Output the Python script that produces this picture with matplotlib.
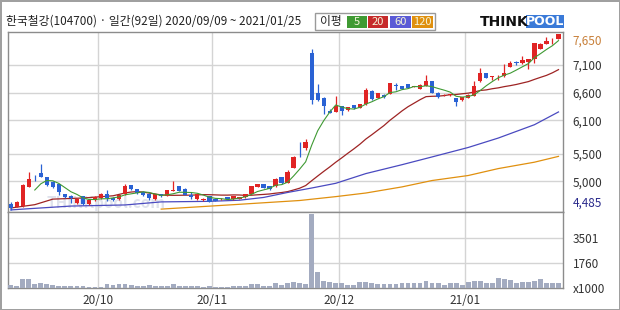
import numpy as np
import pandas as pd
import matplotlib
matplotlib.use('Agg')
import matplotlib.pyplot as plt
from matplotlib.patches import Rectangle

plt.rcParams['font.family'] = ['Noto Sans CJK KR', 'DejaVu Sans']

# 거래일 (휴장일 제외)
holidays = ['2020-09-30', '2020-10-01', '2020-10-02', '2020-10-09',
            '2020-12-25', '2020-12-31', '2021-01-01']
dates = pd.bdate_range('2020-09-09', '2021-01-25')
dates = dates[~dates.isin(pd.to_datetime(holidays))]

opens = [4600, 4545, 4560, 4900, 5100, 5150, 5070, 4990, 4950, 4770,
         4735, 4605, 4735, 4590, 4665, 4695, 4780, 4700, 4675, 4770,
         4930, 4855, 4810, 4780, 4675, 4765, 4735, 4830, 4910, 4870,
         4750, 4675, 4665, 4735, 4690, 4675, 4710, 4675, 4690, 4710,
         4780, 4900, 4945, 4910, 4910, 5075, 4970, 5245, 5480, 5600,
         7320, 6590, 6510, 6265, 6250, 6355, 6280, 6370, 6325, 6385,
         6630, 6500, 6560, 6575, 6730, 6710, 6750, 6700, 6670, 6720,
         6810, 6600, 6550, 6555, 6500, 6460, 6500, 6545, 6800, 6945,
         6880, 6890, 6890, 7065, 7150, 7125, 7155, 7200, 7390, 7480,
         7520, 7570]
closes = [4520, 4630, 4930, 5050, 5090, 5080, 4930, 4900, 4810, 4720,
          4705, 4690, 4590, 4660, 4720, 4770, 4695, 4665, 4750, 4910,
          4855, 4785, 4755, 4695, 4765, 4735, 4840, 4850, 4830, 4755,
          4720, 4770, 4690, 4635, 4655, 4690, 4690, 4740, 4720, 4770,
          4910, 4945, 4885, 4855, 5050, 4970, 5165, 5445, 5470, 5710,
          6460, 6470, 6355, 6240, 6355, 6265, 6335, 6315, 6395, 6650,
          6475, 6590, 6515, 6765, 6720, 6670, 6680, 6710, 6740, 6810,
          6590, 6515, 6560, 6565, 6430, 6520, 6560, 6725, 6945, 6860,
          6895, 6905, 6960, 7125, 7140, 7185, 7195, 7495, 7480, 7520,
          7530, 7650]
highs = [4620, 4650, 4950, 5160, 5110, 5310, 5080, 5000, 4960, 4780,
         4760, 4700, 4745, 4670, 4730, 4790, 4840, 4710, 4760, 4950,
         4940, 4860, 4820, 4785, 4770, 4770, 4850, 5005, 4920, 4875,
         4810, 4775, 4700, 4740, 4695, 4700, 4715, 4745, 4725, 4780,
         4920, 4955, 4950, 4915, 5060, 5080, 5210, 5460, 5700, 5760,
         7390, 6745, 6520, 6300, 6530, 6360, 6345, 6380, 6400, 6680,
         6640, 6600, 6565, 6770, 6770, 6715, 6755, 6720, 6745, 6920,
         6815, 6605, 6575, 6580, 6505, 6525, 6565, 6800, 7035, 6950,
         6905, 6915, 7120, 7165, 7170, 7260, 7210, 7500, 7490, 7600,
         7590, 7660]
lows = [4485, 4530, 4540, 4890, 5005, 5070, 4920, 4880, 4750, 4700,
        4605, 4590, 4580, 4580, 4655, 4690, 4640, 4650, 4670, 4760,
        4850, 4780, 4745, 4660, 4670, 4725, 4730, 4820, 4825, 4750,
        4680, 4670, 4655, 4620, 4640, 4670, 4685, 4670, 4685, 4705,
        4775, 4895, 4880, 4850, 4905, 4960, 4965, 5240, 5430, 5560,
        6390, 6450, 6210, 6225, 6245, 6195, 6275, 6305, 6320, 6380,
        6470, 6495, 6510, 6570, 6640, 6665, 6675, 6695, 6665, 6715,
        6585, 6510, 6540, 6545, 6355, 6455, 6495, 6540, 6795, 6855,
        6830, 6830, 6885, 7060, 7100, 7120, 7030, 7124, 7385, 7475,
        7470, 7565]
volume = [209, 160, 605, 605, 280, 325, 280, 185, 140, 115,
          140, 115, 140, 90, 90, 90, 280, 209, 280, 280,
          209, 140, 140, 185, 140, 115, 140, 255, 140, 115,
          140, 115, 90, 115, 90, 90, 90, 115, 115, 140,
          300, 280, 140, 140, 350, 209, 325, 441, 325, 280,
          5150, 1137, 510, 441, 325, 325, 209, 209, 441, 441,
          325, 280, 280, 280, 280, 370, 370, 370, 370, 510,
          370, 370, 209, 370, 370, 209, 441, 490, 490, 370,
          370, 673, 627, 557, 370, 418, 418, 510, 627, 370,
          370, 325]

# 이동평균선
ma20_head_idx = [0, 4, 7, 12, 17]
ma20_head_val = [4520, 4580, 4680, 4700, 4740]
ma60_idx = [0, 2, 10, 19, 25, 33, 38, 42, 46, 50, 54, 59, 65, 70, 76, 81, 87, 91]
ma60_val = [4485, 4500, 4555, 4575, 4630, 4640, 4660, 4710, 4800, 4880,
            4965, 5140, 5300, 5440, 5610, 5780, 6020, 6250]
ma120_idx = [25, 37, 48, 54, 59, 65, 70, 76, 81, 87, 91]
ma120_val = [4500, 4580, 4655, 4725, 4790, 4900, 5015, 5105, 5230, 5345, 5450]

price_grid = [5000, 5500, 6100, 6600, 7100]
vol_grid = [1760, 3501]
ma_periods = ['5', '20', '60', '120']
ma_colors = ['#3f9a33', '#c62b2b', '#5a5ad6', '#e0900f']

n = len(closes)
x = np.arange(n)
o = np.array(opens)
c = np.array(closes)
up = c >= o
candle_col = np.where(up, '#e02424', '#2a62d4')

cs = pd.Series(closes)
ma5 = cs.rolling(5).mean()
ma20 = cs.rolling(20).mean()

fig = plt.figure(figsize=(6.2, 3.1), dpi=100)
fig.patch.set_edgecolor('#a0a0a0')
fig.patch.set_linewidth(2)

ax = fig.add_axes([8/620, 98/310, 555/620, 180/310])
axv = fig.add_axes([8/620, 22/310, 555/620, 76/310], sharex=ax)

# 캔들
ax.vlines(x, lows, highs, colors=candle_col, lw=0.9, zorder=3)
ax.bar(x, np.abs(c - o), bottom=np.minimum(o, c), width=0.72,
       color=candle_col, zorder=4)

# 이평선
ax.plot(x[4:], ma5[4:], color=ma_colors[0], lw=0.8, zorder=5)
ax.plot(list(ma20_head_idx) + list(x[19:]), ma20_head_val + list(ma20[19:]),
        color='#9e2424', lw=0.9, zorder=2)
ax.plot(ma60_idx, ma60_val, color='#4a4ac0', lw=0.9, zorder=2)
ax.plot(ma120_idx, ma120_val, color=ma_colors[3], lw=0.9, zorder=2)

# 거래량
axv.bar(x, volume, width=0.8, color='#a3abc0', zorder=3)

# 월 구분선
month = dates.month
bounds = np.where(month[1:] != month[:-1])[0] + 1 - 0.5
labels = [d.strftime('%y/%m') for d in dates[(bounds + 0.5).astype(int)]]

for a in (ax, axv):
    for b in bounds:
        a.axvline(b, color='#d4d4d4', lw=1, zorder=1)
    for s in a.spines.values():
        s.set_color('#8c8c8c')
        s.set_linewidth(1)
    a.yaxis.tick_right()
    a.tick_params(axis='y', length=0, pad=7, labelsize=8.5, labelcolor='#333333')

for g in price_grid:
    ax.axhline(g, color='#d4d4d4', lw=1, zorder=1)
for g in vol_grid:
    axv.axhline(g, color='#d4d4d4', lw=1, zorder=1)

ax.set_xlim(-0.45, n - 0.25)
ax.set_ylim(4448, 7690)
yt = [min(lows)] + price_grid + [closes[-1]]
ax.set_yticks(yt)
ax.set_yticklabels([f'{v:,}' for v in yt])
tl = ax.get_yticklabels()
tl[0].set_color('#2b2b8c')
tl[0].set_va('bottom')
tl[-1].set_color('#c8803a')
tl[-1].set_va('top')
ax.tick_params(axis='x', labelbottom=False, length=0)

axv.set_ylim(0, 5290)
axv.set_yticks([0] + vol_grid)
axv.set_yticklabels(['x1000'] + [str(v) for v in vol_grid])
axv.set_xticks(bounds)
axv.set_xticklabels(labels)
axv.tick_params(axis='x', length=0, pad=4.5, labelsize=8.5, labelcolor='#333333')

# 워터마크
ax.text(0.07, 0.05, 'THINKpool.com', transform=ax.transAxes, fontsize=11,
        fontweight='bold', color='#dfe2ec', va='center', zorder=0)

# 상단 제목
fig.text(6/620, 1 - 21/310, '한국철강(104700) · 일간(92일) 2020/09/09 ~ 2021/01/25',
         fontsize=8.5, va='center', color='#222222')

fig.patches.append(Rectangle((315/620, 1 - 30/310), 120/620, 17/310,
                             transform=fig.transFigure, facecolor='white',
                             edgecolor='#9a9a9a', lw=1))
fig.text(331/620, 1 - 21.5/310, '이평', fontsize=8.5, ha='center', va='center',
         color='#222222')
box_x = [347, 368, 390, 412]
box_w = [20, 20, 21, 21]
for bx, bw, lab, col in zip(box_x, box_w, ma_periods, ma_colors):
    fig.patches.append(Rectangle((bx/620, 1 - 27.5/310), bw/620, 11/310,
                                 transform=fig.transFigure, facecolor=col,
                                 edgecolor='none'))
    fig.text((bx + bw/2)/620, 1 - 22/310, lab, fontsize=8, ha='center',
             va='center', color='#f4f4d8')

# 로고
fig.text(480/620, 1 - 22/310, 'THINK', fontsize=10, fontweight='bold',
         color='#111111', va='center', family='DejaVu Sans')
fig.patches.append(Rectangle((526/620, 1 - 28/310), 38/620, 13/310,
                             transform=fig.transFigure, facecolor='#3a7ad8',
                             edgecolor='none'))
fig.text(545/620, 1 - 21.5/310, 'POOL', fontsize=9, fontweight='bold',
         color='white', ha='center', va='center', family='DejaVu Sans')

fig.savefig('out.png', dpi=100, facecolor='white', edgecolor=fig.get_edgecolor())
